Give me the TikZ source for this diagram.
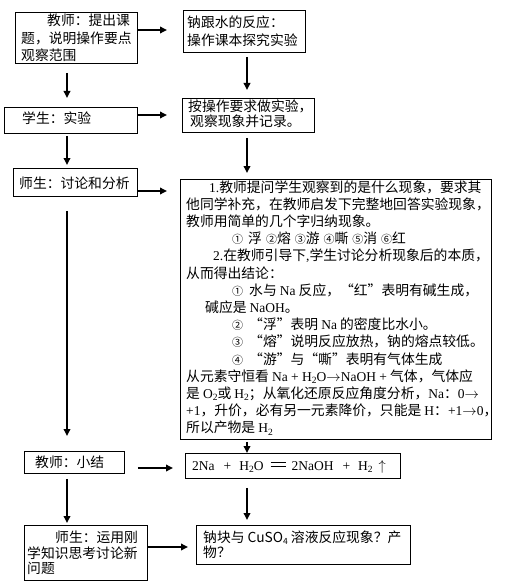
\documentclass[tikz,border=0pt]{standalone}
\usepackage{fontspec}
\setmainfont{Noto Sans CJK SC}
\newfontfamily\latf{Liberation Serif}
\usetikzlibrary{arrows.meta}
\newcommand\La[1]{{\latf\fontsize{13.5}{15}\selectfont #1}}
\newcommand\lsub[1]{\raisebox{-2.5pt}{\latf\fontsize{9.5}{10}\selectfont #1}}
\newcommand\ssub[1]{\raisebox{-2pt}{\fontsize{8.5}{9}\selectfont #1}}
\newcommand\cn[1]{{\fontsize{11}{10}\selectfont #1}}
\newcommand\dbleq{\makebox[17pt]{\rlap{\raisebox{7pt}{\rule{15pt}{0.9pt}}}\raisebox{3pt}{\rule{15pt}{0.9pt}}}}
\begin{document}
\begin{tikzpicture}[x=1pt,y=-1pt,
  bx/.style={draw, line width=0.8pt, inner sep=0pt, anchor=north west},
  tx/.style={anchor=base west, inner sep=0pt, font=\fontsize{13.8}{17}\selectfont},
  arr/.style={line width=1.8pt, -{Triangle[length=7pt,width=6.5pt]}}]
\useasboundingbox (0,0) rectangle (505,583);
\fill[white] (0,0) rectangle (505,583);

% boxes
\node[bx, minimum width=122pt, minimum height=51pt] (B1) at (15,12) {};
\node[bx, minimum width=122pt, minimum height=42pt] (B2) at (183,10) {};
\node[bx, minimum width=133pt, minimum height=26pt] (B3) at (4,107) {};
\node[bx, minimum width=132pt, minimum height=34pt] (B4) at (182,98) {};
\node[bx, minimum width=124pt, minimum height=28pt] (B5) at (13,168) {};
\node[bx, minimum width=311pt, minimum height=260pt] (B6) at (180,179) {};
\node[bx, minimum width=100pt, minimum height=22pt] (B7) at (24,451) {};
\node[bx, minimum width=215pt, minimum height=25pt] (B8) at (185,453) {};
\node[bx, minimum width=123pt, minimum height=55pt] (B9) at (24,525) {};
\node[bx, minimum width=214pt, minimum height=39pt] (B10) at (196,525) {};

% texts
\node[tx] (t11) at (47,26) {教师：提出课};
\node[tx] (t12) at (21,44) {题，说明操作要点};
\node[tx] (t13) at (21,61) {观察范围};

\node[tx] (t21) at (187,28) {钠跟水的反应：};
\node[tx] (t22) at (187,46) {操作课本探究实验};

\node[tx] (t31) at (22,124) {学生：实验};

\node[tx] (t41) at (188,111) {按操作要求做实验，};
\node[tx] (t42) at (190,127) {观察现象并记录。};

\node[tx] (t51) at (19,188) {师生：讨论和分析};

\node[tx] (b1) at (209,192) {\La{1.}教师提问学生观察到的是什么现象，要求其};
\node[tx] (b2) at (186,209.2) {他同学补充，在教师启发下完整地回答实验现象，};
\node[tx] (b3) at (186,226.4) {教师用简单的几个字归纳现象。};
\node[tx] (b4) at (232,243.6) {\cn{①}\hspace{5pt}浮\hspace{4pt}\cn{②}熔\hspace{4pt}\cn{③}游\hspace{4pt}\cn{④}嘶\hspace{4pt}\cn{⑤}消\hspace{4pt}\cn{⑥}红};
\node[tx] (b5) at (213,260.8) {\La{2.}在教师引导下\La{,}学生讨论分析现象后的本质，};
\node[tx] (b6) at (186,278) {从而得出结论：};
\node[tx] (b7) at (232,295.2) {\cn{①}\hspace{6pt}水与 \La{Na} 反应，“红”表明有碱生成，};
\node[tx] (b8) at (205,312.4) {碱应是 \La{NaOH}。};
\node[tx] (b9) at (232,329.6) {\cn{②}\hspace{6pt}“浮”表明 \La{Na} 的密度比水小。};
\node[tx] (b10) at (232,346.8) {\cn{③}\hspace{6pt}“熔”说明反应放热，钠的熔点较低。};
\node[tx] (b11) at (232,364) {\cn{④}\hspace{6pt}“游”与“嘶”表明有气体生成};
\node[tx] (b12) at (186,381.2) {从元素守恒看 \La{Na + H\lsub{2}O$\rightarrow$NaOH +} 气体，气体应};
\node[tx] (b13) at (186,398.4) {是 \La{O\lsub{2}}或 \La{H\lsub{2}}；从氧化还原反应角度分析，\La{Na}：\La{0$\rightarrow$}};
\node[tx] (b14) at (186,415.6) {\La{+1}，升价，必有另一元素降价，只能是 \La{H}：\La{+1$\rightarrow$0}，};
\node[tx] (b15) at (186,432.8) {所以产物是 \La{H\lsub{2}}};

\node[tx] (t71) at (35,467) {教师：小结};

\node[tx, font=\latf\fontsize{13.5}{15}\selectfont] (t81) at (192,470)
  {2Na\hspace{9pt}+\hspace{8pt}H\lsub{2}O\hspace{6pt}\dbleq\hspace{5pt}2NaOH\hspace{9pt}+\hspace{8pt}H\lsub{2}\hspace{6pt}$\uparrow$};

\node[tx] (t91) at (55,542) {师生：运用刚};
\node[tx] (t92) at (27,558) {学知识思考讨论新};
\node[tx] (t93) at (27,573) {问题};

\node[tx] (t101) at (203,542) {钠块与 CuSO\ssub{4} 溶液反应现象？产};
\node[tx] (t102) at (203,557) {物？};

% connector guides
\coordinate (cL) at (67,0);
\coordinate (cR) at (247,0);
\coordinate (r1) at (0,30);
\coordinate (r2) at (0,115);
\coordinate (r3) at (0,191);
\coordinate (r4) at (0,468);
\coordinate (r5) at (0,547);

% arrows
\draw[arr, shorten >=16pt] (B1.east |- r1) -- (B2.west |- r1);
\draw[arr, shorten <=9pt, shorten >=9pt] (cL |- B1.south) -- (cL |- B3.north);
\draw[arr, shorten <=4pt, shorten >=8pt] (cR |- B2.south) -- (cR |- B4.north);
\draw[arr, shorten >=15pt] (B3.east |- r2) -- (B4.west |- r2);
\draw[arr, shorten <=2pt, shorten >=3pt] (cL |- B3.south) -- (cL |- B5.north);
\draw[arr, shorten <=5pt, shorten >=6pt] (cR |- B4.south) -- (cR |- B6.north);
\draw[arr, shorten >=13pt] (B5.east |- r3) -- (B6.west |- r3);
\draw[arr, shorten <=14pt, shorten >=15pt] (cL |- B5.south) -- (cL |- B7.north);
\draw[arr, shorten <=2pt] (cR |- B6.south) -- (cR |- B8.north);
\draw[arr, shorten <=13pt, shorten >=12pt] (B7.east |- r4) -- (B8.west |- r4);
\draw[arr, shorten <=5pt, shorten >=2pt] (cL |- B7.south) -- (cL |- B9.north);
\draw[arr, shorten <=9pt, shorten >=5pt] (cR |- B8.south) -- (cR |- B10.north);
\draw[arr, shorten >=8pt] (B9.east |- r5) -- (B10.west |- r5);
\end{tikzpicture}
\end{document}
